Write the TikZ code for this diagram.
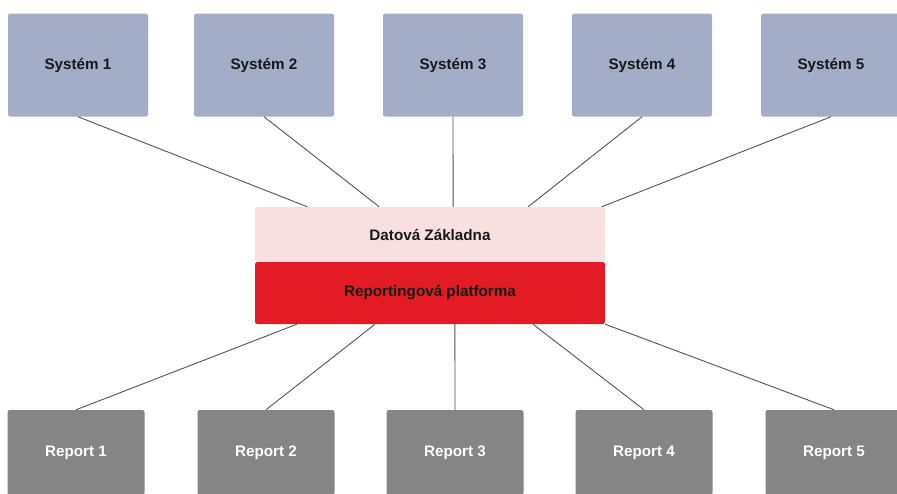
\documentclass[tikz,border=0pt]{standalone}
\usepackage{fontspec}
\setmainfont{Liberation Sans}
\usetikzlibrary{calc}

\definecolor{sysblue}{RGB}{163,173,200}
\definecolor{repgray}{RGB}{133,133,133}
\definecolor{datpink}{RGB}{248,224,224}
\definecolor{platred}{RGB}{227,27,36}
\definecolor{linkgray}{RGB}{80,80,80}

\tikzset{
    sysbox/.style={fill=sysblue, rounded corners=2pt, minimum width=140*0.03cm, minimum height=103*0.03cm, font=\fontsize{13}{15}\selectfont\bfseries, text=black!90},
    repbox/.style={fill=repgray, rounded corners=2pt, minimum width=137*0.03cm, minimum height=85*0.03cm, font=\fontsize{13}{15}\selectfont\bfseries, text=white},
    link/.style={linkgray, line width=0.75pt}
}

\begin{document}
\begin{tikzpicture}[x=0.03cm, y=-0.03cm]
            % Frame
            \clip (0, 0) rectangle (897, 493);
            \fill[white] (0, 0) rectangle (897, 493);

            % Source systems
            \node[sysbox] (s1) at (78, 65) {Systém 1};
            \node[sysbox] (s2) at (264, 65) {Systém 2};
            \node[sysbox] (s3) at (453, 65) {Systém 3};
            \node[sysbox] (s4) at (642, 65) {Systém 4};
            \node[sysbox] (s5) at (831, 65) {Systém 5};

            % Central platform
            \node[fill=datpink, rounded corners=2pt, minimum width=350*0.03cm, minimum height=55*0.03cm, font=\fontsize{13}{15}\selectfont\bfseries, text=black!90] (dat) at (430, 234.5) {Datová Základna};
            \node[fill=platred, rounded corners=2pt, minimum width=350*0.03cm, minimum height=62*0.03cm, font=\fontsize{13}{15}\selectfont\bfseries, text=black!90] (plat) at (430, 293) {Reportingová platforma};

            % Reports
            \node[repbox] (r1) at (76, 452.5) {Report 1};
            \node[repbox] (r2) at (266, 452.5) {Report 2};
            \node[repbox] (r3) at (455, 452.5) {Report 3};
            \node[repbox] (r4) at (644, 452.5) {Report 4};
            \node[repbox] (r5) at (834, 452.5) {Report 5};

            % Links from systems
            \draw[link] (s1.south) -- ($(dat.north west)!0.15!(dat.north east)$);
            \draw[link] (s2.south) -- ($(dat.north west)!0.355!(dat.north east)$);
            \draw[link] (s3.south) -- ($(dat.north west)!0.566!(dat.north east)$);
            \draw[link] (s4.south) -- ($(dat.north west)!0.78!(dat.north east)$);
            \draw[link] (s5.south) -- ($(dat.north west)!0.99!(dat.north east)$);

            % Links to reports
            \draw[link] ($(plat.south west)!0.12!(plat.south east)$) -- (r1.north);
            \draw[link] ($(plat.south west)!0.343!(plat.south east)$) -- (r2.north);
            \draw[link] ($(plat.south west)!0.571!(plat.south east)$) -- (r3.north);
            \draw[link] ($(plat.south west)!0.794!(plat.south east)$) -- (r4.north);
            \draw[link] ($(plat.south west)!1!(plat.south east)$) -- (r5.north);
        \end{tikzpicture}
\end{document}
